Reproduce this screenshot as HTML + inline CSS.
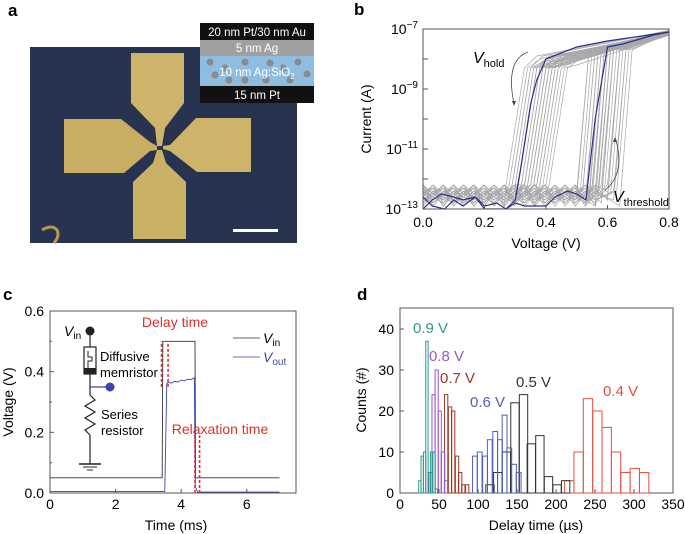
<!DOCTYPE html>
<html><head><meta charset="utf-8"><style>
body{margin:0;background:#fff}
svg{display:block;font-family:"Liberation Sans",sans-serif}
</style></head><body>
<svg id="s" width="685" height="534" viewBox="0 0 685 534" xmlns="http://www.w3.org/2000/svg">
<!-- panel labels -->
<text x="8" y="16" font-size="17" font-weight="bold">a</text>
<text x="354" y="15" font-size="17" font-weight="bold">b</text>
<text x="3" y="300" font-size="17" font-weight="bold">c</text>
<text x="357" y="300" font-size="17" font-weight="bold">d</text>

<!-- panel a micrograph -->
<g>
<rect x="30" y="47" width="267" height="196" fill="#283350"/>
<polygon fill="#cdb46a" points="131,53 184,53 184,103 165,128 162,146 157,146 155,128 131,103"/>
<polygon fill="#c8ad62" points="64,119 121,119 150,142 157,146 157,150 150,151 124,173 64,173"/>
<polygon fill="#cdb46a" points="196,118 251,118 251,172 197,172 170,151 163,149 163,146 170,145"/>
<polygon fill="#cbb166" points="133,182 153,163 157,150 162,150 166,163 186,182 186,239 133,239"/>
<path d="M42,230 Q52,224 57,230 Q60,236 54,243" stroke="#b89a55" stroke-width="3" fill="none"/>
<rect x="233" y="229" width="45" height="3" fill="#fff"/>
</g>
<g font-size="11.5" text-anchor="middle">
<rect x="200" y="23" width="114" height="17" fill="#111"/>
<rect x="200" y="40" width="114" height="16" fill="#a0a0a0"/>
<rect x="200" y="56" width="114" height="30" fill="#8fbde0"/>
<rect x="200" y="86" width="114" height="17" fill="#111"/>
<g fill="#8a8a8a">
<circle cx="210" cy="62" r="3.5"/><circle cx="225" cy="68" r="3.5"/><circle cx="245" cy="62" r="3.5"/><circle cx="270" cy="63" r="3.5"/><circle cx="298" cy="62" r="3.5"/><circle cx="215" cy="75" r="3.5"/><circle cx="229" cy="80" r="3.5"/><circle cx="245" cy="80" r="3.5"/><circle cx="266" cy="80" r="3.5"/><circle cx="290" cy="80" r="3.5"/><circle cx="307" cy="74" r="3.5"/><circle cx="283" cy="68" r="3.5"/>
</g>
<text x="257" y="36" fill="#fff">20 nm Pt/30 nm Au</text>
<text x="257" y="52" fill="#fff">5 nm Ag</text>
<text x="257" y="76" fill="#fff">10 nm Ag:SiO<tspan font-size="8" dy="3">2</tspan></text>
<text x="257" y="99" fill="#fff">15 nm Pt</text>
</g>

<g id="pb"></g>
<g id="pc"></g>
<g id="pd"></g>
</svg>
<script>
const NS="http://www.w3.org/2000/svg";
function mk(p,t,a){const e=document.createElementNS(NS,t);for(const k in a)e.setAttribute(k,a[k]);p.appendChild(e);return e;}
function txt(p,x,y,s,a){const e=mk(p,'text',Object.assign({x:x,y:y},a||{}));e.textContent=s;return e;}

// ---------- panel b data ----------
const bXTicks=[0,0.2,0.4,0.6,0.8];
const bYExp=[-13,-11,-9,-7];
const blueFwdV=[0,0.03,0.06,0.1,0.13,0.17,0.2,0.23,0.27,0.3,0.33,0.37,0.4,0.43,0.47,0.5,0.53,0.56,0.6,0.65,0.7,0.75,0.8];
const blueFwdLog=[-13,-12.7,-12.5,-12.6,-12.7,-12.6,-13,-13,-13,-12.8,-12.9,-12.9,-12.9,-12.6,-12.4,-12.5,-12.7,-10,-7.6,-7.5,-7.35,-7.2,-7.1];
const blueBwdV=[0.8,0.6,0.5,0.4,0.37,0.35,0.32,0.3,0.27,0.24,0.2,0.17,0.13,0.1,0.07,0.03,0];
const blueBwdLog=[-7.1,-7.4,-7.6,-8,-8.7,-9.5,-11.5,-12.7,-13,-12.8,-12.9,-12.6,-12.9,-12.7,-13,-12.9,-12.6];
const graySetV=[0.5,0.51,0.52,0.53,0.54,0.55,0.55,0.56,0.56,0.57,0.57,0.58,0.58,0.59,0.6,0.6,0.61,0.62,0.63,0.5,0.52,0.54,0.56,0.58,0.6,0.62,0.64,0.53,0.55,0.57];
const grayHoldV=[0.27,0.28,0.29,0.3,0.31,0.31,0.32,0.32,0.33,0.33,0.34,0.34,0.35,0.35,0.36,0.36,0.37,0.38,0.39,0.4,0.29,0.3,0.33,0.35,0.37,0.38,0.31,0.34,0.36,0.41];
const grayNoise=[-12.4,-12.6,-12.3,-12.8,-12.5,-12.2,-12.7,-12.4,-12.9,-12.5,-12.3,-12.6,-12.8,-12.4,-12.6,-12.2,-12.5,-12.7];

const bx=v=>423+v/0.8*246, by=l=>29+(-7-l)*30;
(function(){
 const g=document.getElementById('pb');
 const clip=mk(g,'clipPath',{id:'cb'});mk(clip,'rect',{x:423,y:29,width:246,height:180});
 const gl=mk(g,'g',{'clip-path':'url(#cb)'});
 graySetV.forEach((vs,i)=>{
  const vh=grayHoldV[i];const pts=[];
  for(let k=0;k<grayNoise.length;k++){const v=k*0.033;if(v>vs)break;pts.push([v,grayNoise[(k+i)%grayNoise.length]]);}
  pts.push([vs,grayNoise[i%grayNoise.length]]);pts.push([vs+0.04,-7.7]);pts.push([0.8,-7.05-(i%5)*0.04]);
  pts.push([vh+0.1,-7.9-(i%4)*0.1]);pts.push([vh+0.06,-8.3]);pts.push([vh,-12.2]);
  for(let k=grayNoise.length-1;k>=0;k--){const v=k*0.033;if(v>=vh)continue;pts.push([v,grayNoise[(k+i*3)%grayNoise.length]]);}
  const p=mk(gl,'polyline',{points:pts.map(q=>bx(q[0])+','+by(q[1])).join(' '),fill:'none',stroke:'#a8a8a8','stroke-width':0.7});
  
 });
 const bf=mk(gl,'polyline',{points:blueFwdV.map((v,i)=>bx(v)+','+by(blueFwdLog[i])).join(' '),fill:'none',stroke:'#2b2f8a','stroke-width':1.2});
 
 const bb=mk(gl,'polyline',{points:blueBwdV.map((v,i)=>bx(v)+','+by(blueBwdLog[i])).join(' '),fill:'none',stroke:'#2b2f8a','stroke-width':1.2});
 
 mk(g,'rect',{x:423,y:29,width:246,height:180,fill:'none',stroke:'#555','stroke-width':1});
 bXTicks.forEach(v=>{mk(g,'line',{x1:bx(v),x2:bx(v),y1:209,y2:205,stroke:'#555'});
  const t=txt(g,bx(v),227,v.toFixed(1),{'font-size':14,'text-anchor':'middle'});});
 for(let l=-13;l<=-7;l++){mk(g,'line',{x1:423,x2:428,y1:by(l),y2:by(l),stroke:'#555'});}
 bYExp.forEach(l=>{const t=txt(g,418,by(l)+5,'10',{'font-size':14,'text-anchor':'end'});const s=mk(t,'tspan',{dy:-6,'font-size':10});s.textContent='−'+(-l);
  });
 const xt=txt(g,546,248,'Voltage (V)',{'font-size':14,'text-anchor':'middle'});
 const yt=txt(g,0,0,'Current (A)',{'font-size':14,'text-anchor':'middle',transform:'translate(371,119) rotate(-90)'});
 const h=txt(g,473,63,'V',{'font-size':16,'font-style':'italic'});mk(h,'tspan',{'font-size':11,'font-style':'normal',dy:4}).textContent='hold';
 
 mk(g,'path',{d:'M528,52 Q505,60 514,104',fill:'none',stroke:'#444','stroke-width':0.8});
 mk(g,'path',{d:'M514,106 l-2,-5 l4,0 z',fill:'#444'});
 const th=txt(g,613,202,'V',{'font-size':16,'font-style':'italic'});mk(th,'tspan',{'font-size':11,'font-style':'normal',dy:4}).textContent='threshold';
 
 mk(g,'path',{d:'M605,190 Q625,175 616,140',fill:'none',stroke:'#444','stroke-width':0.8});
 mk(g,'path',{d:'M615,137 l-2,5 l4,0 z',fill:'#444'});
})();

// ---------- panel c data ----------
const cXTicks=[0,2,4,6];
const cYTicks=[0,0.2,0.4,0.6];
const vinT=[0,3.42,3.44,4.42,4.44,7];
const vinV=[0.05,0.05,0.5,0.5,0.05,0.05];
const voutT=[0,3.5,3.56,3.6,3.7,3.8,3.9,4.0,4.1,4.2,4.3,4.4,4.43,4.5,7];
const voutV=[0.005,0.005,0.36,0.365,0.362,0.368,0.366,0.372,0.37,0.375,0.374,0.38,0.02,0.003,0.003];
const cx=t=>50+t*32.8, cy=v=>493-v/0.6*182;
(function(){
 const g=document.getElementById('pc');
 mk(g,'rect',{x:50,y:311,width:246,height:182,fill:'none',stroke:'#555'});
 cXTicks.forEach(v=>{mk(g,'line',{x1:cx(v),x2:cx(v),y1:493,y2:489,stroke:'#555'});
  const t=txt(g,cx(v),509,String(v),{'font-size':14,'text-anchor':'middle'});});
 cYTicks.forEach(v=>{mk(g,'line',{x1:50,x2:54,y1:cy(v),y2:cy(v),stroke:'#555'});
  const t=txt(g,44,cy(v)+5,v.toFixed(1),{'font-size':14,'text-anchor':'end'});});
 [0.1,0.3,0.5].forEach(v=>mk(g,'line',{x1:50,x2:52,y1:cy(v),y2:cy(v),stroke:'#555'}));
 const xt=txt(g,176,530,'Time (ms)',{'font-size':14,'text-anchor':'middle'});
 const yt=txt(g,0,0,'Voltage (V)',{'font-size':14,'text-anchor':'middle',transform:'translate(13,402) rotate(-90)'});
 const l1=mk(g,'polyline',{points:vinT.map((t,i)=>cx(t)+','+cy(vinV[i])).join(' '),fill:'none',stroke:'#333','stroke-width':0.9});
 
 const l2=mk(g,'polyline',{points:voutT.map((t,i)=>cx(t)+','+cy(voutV[i])).join(' '),fill:'none',stroke:'#3a44b0','stroke-width':0.9});
 
 [[3.4,0.35,0.5],[3.6,0.35,0.5],[4.42,0,0.19],[4.56,0,0.19]].forEach(d=>{const l=mk(g,'line',{x1:cx(d[0]),x2:cx(d[0]),y1:cy(d[1]),y2:cy(d[2]),stroke:'#e0302a','stroke-width':1.6,'stroke-dasharray':'3,2'});
  });
 const d=txt(g,175,327,'Delay time',{'font-size':14,fill:'#e0302a','text-anchor':'middle'});
 const r=txt(g,220,434,'Relaxation time',{'font-size':14,fill:'#e0302a','text-anchor':'middle'});
 // legend
 mk(g,'line',{x1:233,x2:260,y1:338,y2:338,stroke:'#333','stroke-width':0.8});
 mk(g,'line',{x1:233,x2:260,y1:357,y2:357,stroke:'#3a44b0','stroke-width':0.8});
 const a=txt(g,263,343,'V',{'font-size':14,'font-style':'italic'});mk(a,'tspan',{'font-size':10,'font-style':'normal',dy:3}).textContent='in';
 
 const b=txt(g,263,362,'V',{'font-size':14,'font-style':'italic',fill:'#3a44b0'});mk(b,'tspan',{'font-size':10,'font-style':'normal',dy:3}).textContent='out';
 
 // circuit
 const c=mk(g,'g',{});
 mk(c,'line',{x1:90,x2:90,y1:331,y2:464,stroke:'#222','stroke-width':1.2});
 mk(c,'circle',{cx:90,cy:331,r:4.5,fill:'#222'});
 mk(c,'rect',{x:84,y:347,width:12,height:27,fill:'#fff',stroke:'#222','stroke-width':1.2});
 mk(c,'rect',{x:84,y:368,width:12,height:6,fill:'#222'});
 mk(c,'path',{d:'M88,368 v-7 h4 v-4 h-4 v-6',fill:'none',stroke:'#222'});
 mk(c,'line',{x1:90,x2:108,y1:387,y2:387,stroke:'#3a44b0','stroke-width':1.2});
 mk(c,'circle',{cx:110,cy:387,r:4.5,fill:'#3a44b0'});
 mk(c,'rect',{x:86,y:395,width:8,height:40,fill:'#fff'});
 mk(c,'polyline',{points:'90,395 95,400 85,406 95,412 85,418 95,424 85,430 90,435',fill:'none',stroke:'#222','stroke-width':1.2});
 mk(c,'line',{x1:79,x2:101,y1:464,y2:464,stroke:'#222','stroke-width':1.4});
 mk(c,'line',{x1:83,x2:97,y1:467,y2:467,stroke:'#222','stroke-width':1});
 mk(c,'line',{x1:87,x2:93,y1:470,y2:470,stroke:'#222','stroke-width':1});
 const vi=txt(c,64,336,'V',{'font-size':14,'font-style':'italic'});mk(vi,'tspan',{'font-size':10,'font-style':'normal',dy:3}).textContent='in';
 txt(c,100,361,'Diffusive',{'font-size':13});txt(c,100,377,'memristor',{'font-size':13});
 txt(c,101,419,'Series',{'font-size':13});txt(c,101,435,'resistor',{'font-size':13});
})();

// ---------- panel d data ----------
const dXTicks=[0,50,100,150,200,250,300,350];
const dYTicks=[0,10,20,30,40];
const v09Start=[24,27,30,33,36,39,42,45];
const v09Counts=[3,9,10,37,5,10,10,1];
const v08Start=[37,41,45,49,53,57];
const v08Counts=[5,24,30,20,10,3];
const v07Start=[53,57,62,66,71,75,79,84];
const v07Counts=[10,24,21,20,9,5,2,2];
const v06Start=[93,99,106,112,119,125,131,137,143,149];
const v06Counts=[9,10,9,13,15,13,19,11,7,5];
const v05Start=[110,120,131,142,153,163,174,185,196,207];
const v05Counts=[2,5,10,22,24,12,14,4,2,3];
const v04Start=[211,223,235,247,259,271,283,295,307];
const v04Counts=[3,10,23,20,16,10,5,6,5];
const dx=v=>400+v/350*273, dy=c=>493-c*4.1;
(function(){
 const g=document.getElementById('pd');
 mk(g,'rect',{x:400,y:308,width:273,height:185,fill:'none',stroke:'#555'});
 const series=[
  ['0.4 V',v04Start,v04Counts,12,'#e5503f',603,396],
  ['0.5 V',v05Start,v05Counts,10.7,'#333',516,387],
  ['0.6 V',v06Start,v06Counts,6.2,'#5060b8',470,407],
  ['0.7 V',v07Start,v07Counts,4.3,'#a03525',440,383],
  ['0.8 V',v08Start,v08Counts,4,'#9a55cc',429,361],
  ['0.9 V',v09Start,v09Counts,3,'#2a9a8c',413,333]];
 series.forEach(s=>{
  const sg=mk(g,'g',{});
  s[1].forEach((st,i)=>{const r=mk(sg,'rect',{x:dx(st),y:dy(s[2][i]),width:dx(st+s[3])-dx(st),height:493-dy(s[2][i]),fill:'none',stroke:s[4],'stroke-width':1});
   });
  const t=txt(g,s[5],s[6],s[0],{'font-size':15,fill:s[4]});
 });
 dXTicks.forEach(v=>{mk(g,'line',{x1:dx(v),x2:dx(v),y1:493,y2:489,stroke:'#555'});
  const t=txt(g,dx(v),509,String(v),{'font-size':14,'text-anchor':'middle'});});
 dYTicks.forEach(v=>{mk(g,'line',{x1:400,x2:404,y1:dy(v),y2:dy(v),stroke:'#555'});
  const t=txt(g,394,dy(v)+5,String(v),{'font-size':14,'text-anchor':'end'});});
 const xt=txt(g,536,530,'Delay time (µs)',{'font-size':14,'text-anchor':'middle'});
 const yt=txt(g,0,0,'Counts (#)',{'font-size':14,'text-anchor':'middle',transform:'translate(366,400) rotate(-90)'});
})();
</script>
</body></html>
